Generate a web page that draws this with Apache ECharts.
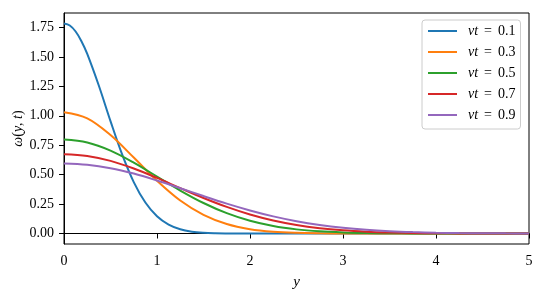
<!DOCTYPE html>
<html>
<head>
<meta charset="utf-8">
<script src="https://cdn.jsdelivr.net/npm/echarts@6/dist/echarts.min.js"></script>
<style>html,body{margin:0;padding:0;background:#fff}#c{width:542px;height:297px}</style>
</head>
<body>
<div id="c"></div>
<script>
// positions y (fine sampling for the narrow νt = 0.1 curve)
const yFine = [0,0.0625,0.125,0.1875,0.25,0.375,0.5,0.625,0.75,0.875,1,1.125,1.25,1.375,1.5,1.625,1.75,1.875,2,2.25,2.5,3,4,5];
const yCoarse = [0,0.25,0.5,0.75,1,1.25,1.5,1.75,2,2.25,2.5,2.75,3,3.25,3.5,3.75,4,4.25,4.5,4.75,5];

const labels = ['0.1','0.3','0.5','0.7','0.9'];
const colors = ['#1f77b4','#ff7f0e','#2ca02c','#d62728','#9467bd'];

const w01 = [1.784,1.767,1.716,1.634,1.526,1.255,0.955,0.672,0.437,0.263,0.1464,0.0754,0.0359,0.0158,0.00643,0.00242,0.00084,0.00027,0.00008,0,0,0,0,0];
const w03 = [1.030,0.978,0.836,0.645,0.448,0.280,0.158,0.0803,0.0367,0.0152,0.00563,0.00189,0.00057,0.00015,0.00004,0,0,0,0,0,0];
const w05 = [0.798,0.773,0.704,0.602,0.484,0.365,0.259,0.1726,0.108,0.0635,0.0351,0.0182,0.00886,0.00406,0.00175,0.00071,0.00027,0.0001,0.00003,0,0];
const w07 = [0.674,0.659,0.617,0.552,0.472,0.386,0.302,0.226,0.1616,0.1106,0.0724,0.0453,0.0271,0.0155,0.00849,0.00444,0.00222,0.00106,0.00049,0.00021,0.00009];
const w09 = [0.595,0.584,0.555,0.509,0.450,0.385,0.318,0.254,0.196,0.1457,0.1048,0.0728,0.0488,0.0316,0.0198,0.0120,0.00698,0.00394,0.00214,0.00113,0.00057];

const xTicks = [0,1,2,3,4,5];
const yTicks = [0,0.25,0.5,0.75,1,1.25,1.5,1.75];

const seriesY = [yFine, yCoarse, yCoarse, yCoarse, yCoarse];
const seriesW = [w01, w03, w05, w07, w09];

const font = 'Liberation Serif';
const chart = echarts.init(document.getElementById('c'), null, {renderer:'canvas'});
chart.setOption({
  animation: false,
  backgroundColor: '#fff',
  grid: {left: 64, right: 13, top: 13, bottom: 53, outerBoundsMode: 'none', containLabel: false,
    show: true, borderColor: '#000', borderWidth: 1, backgroundColor: 'transparent'},
  xAxis: {
    type: 'value', min: 0, max: 5, interval: 1,
    splitLine: {show: false},
    axisLine: {show: true, lineStyle: {color: '#000', width: 1}},
    axisTick: {show: true, length: 5, lineStyle: {color: '#000', width: 1}, customValues: xTicks},
    axisLabel: {color: '#000', fontFamily: font, fontSize: 14, margin: 10, customValues: xTicks},
    name: 'y', nameLocation: 'middle', nameGap: 31, nameMoveOverlap: false,
    nameTextStyle: {color: '#000', fontFamily: font, fontSize: 15, fontStyle: 'italic'}
  },
  yAxis: {
    type: 'value', min: -0.0892, max: 1.8733,
    splitLine: {show: false},
    axisLine: {show: true, lineStyle: {color: '#000', width: 1}},
    axisTick: {show: true, length: 5, lineStyle: {color: '#000', width: 1}, customValues: yTicks},
    axisLabel: {color: '#000', fontFamily: font, fontSize: 14, margin: 10, customValues: yTicks,
      formatter: v => v.toFixed(2)},
    name: '{i|ω}({i|y}, {i|t})', nameLocation: 'middle', nameGap: 39, nameMoveOverlap: false,
    nameTextStyle: {color: '#000', fontFamily: font, fontSize: 14,
      rich: {i: {fontFamily: font, fontSize: 14, fontStyle: 'italic', color: '#000'}}}
  },
  legend: {
    left: 422, top: 20, orient: 'vertical',
    itemWidth: 29, itemHeight: 14, itemGap: 7,
    padding: [4, 5, 7, 5],
    backgroundColor: 'rgba(255,255,255,0.8)',
    borderColor: '#cccccc', borderWidth: 1, borderRadius: 3,
    itemStyle: {opacity: 0},
    lineStyle: {width: 2},
    data: labels.map(l => 'νt = ' + l),
    formatter: n => '{i|νt}{e|=}' + n.split('= ')[1],
    textStyle: {color: '#000', fontFamily: font, fontSize: 14, padding: [0, 0, 0, 6],
      rich: {
        i: {fontFamily: font, fontSize: 14, fontStyle: 'italic', color: '#000'},
        e: {fontFamily: font, fontSize: 14, color: '#000', padding: [0, 6, 0, 6]}
      }}
  },
  series: labels.map((l, k) => ({
    name: 'νt = ' + l,
    type: 'line',
    smooth: 0.35,
    symbol: 'none',
    color: colors[k],
    lineStyle: {width: 2, color: colors[k]},
    data: seriesY[k].map((y, i) => [y, seriesW[k][i]])
  }))
});
</script>
</body>
</html>
